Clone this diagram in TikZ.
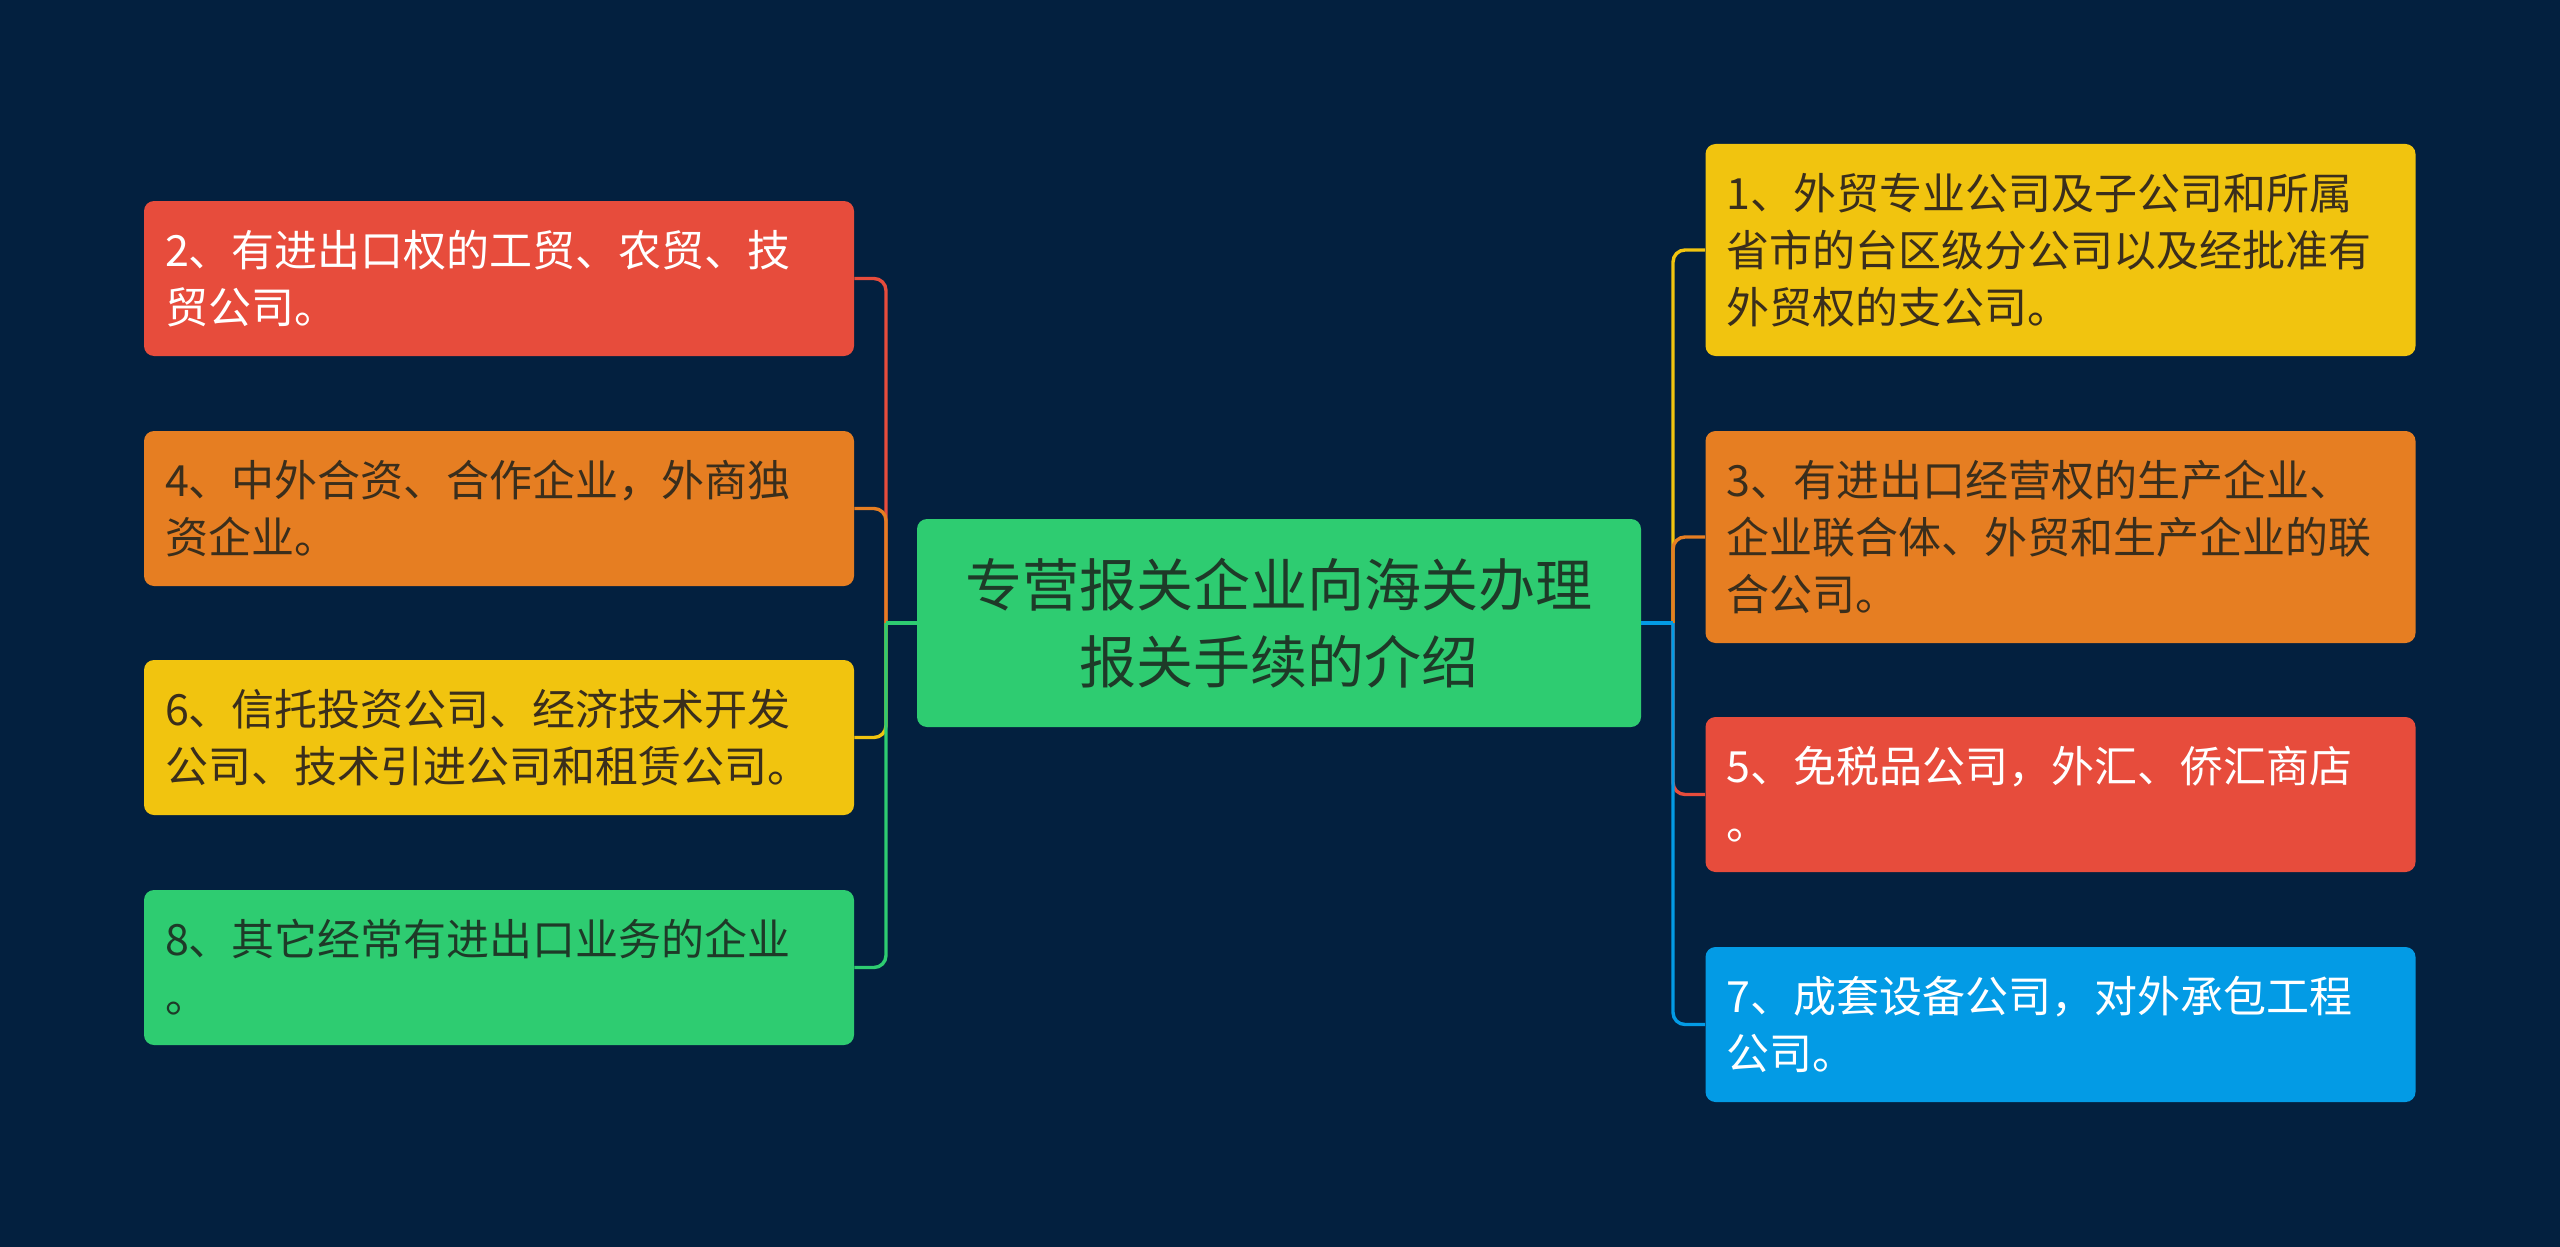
\documentclass[tikz,border=0pt]{standalone}
\usepackage{fontspec}
\setmainfont{Noto Sans CJK SC}
\definecolor{bg}{HTML}{03203F}
\definecolor{cred}{HTML}{E74C3C}
\definecolor{corange}{HTML}{E67E22}
\definecolor{cyellow}{HTML}{F1C40F}
\definecolor{cgreen}{HTML}{2ECC71}
\definecolor{cblue}{HTML}{039BE5}
\definecolor{tdark}{HTML}{3A2E1C}
\definecolor{tgreen}{HTML}{1E3A28}
\tikzset{
  box/.style={rounded corners=5pt, align=left, text width=334pt, inner xsep=10.5pt, inner ysep=0pt,
    font=\fontsize{21.5pt}{28.5pt}\selectfont},
  boxtwo/.style={box, minimum height=77.5pt},
  boxthree/.style={box, minimum height=106pt},
  link/.style={line width=1.7pt, rounded corners=6pt},
}
\begin{document}
\begin{tikzpicture}[x=0.5pt,y=-0.5pt]
\useasboundingbox (0,0) rectangle (2560,1247);
\fill[bg] (0,0) rectangle (2560,1247);

\node[fill=cgreen, rounded corners=5pt, minimum width=362pt, minimum height=104pt, align=center,
  text=tgreen, font=\fontsize{28.5pt}{38.5pt}\selectfont] (root) at (1279,623)
  {专营报关企业向海关办理\\报关手续的介绍};

% left
\node[boxtwo, fill=cred, text=white] (n2) at (499,278.5) {2、有进出口权的工贸、农贸、技\\贸公司。};
\node[boxtwo, fill=corange, text=tdark] (n4) at (499,508.5) {4、中外合资、合作企业，外商独\\资企业。};
\node[boxtwo, fill=cyellow, text=tdark] (n6) at (499,737.5) {6、信托投资公司、经济技术开发\\公司、技术引进公司和租赁公司。};
\node[boxtwo, fill=cgreen, text=tgreen] (n8) at (499,967.5) {8、其它经常有进出口业务的企业\\。};

% right
\node[boxthree, fill=cyellow, text=tdark] (n1) at (2060.5,250) {1、外贸专业公司及子公司和所属\\省市的台区级分公司以及经批准有\\外贸权的支公司。};
\node[boxthree, fill=corange, text=tdark] (n3) at (2060.5,537) {3、有进出口经营权的生产企业、\\企业联合体、外贸和生产企业的联\\合公司。};
\node[boxtwo, fill=cred, text=white] (n5) at (2060.5,794.5) {5、免税品公司，外汇、侨汇商店\\。};
\node[boxtwo, fill=cblue, text=white] (n7) at (2060.5,1024.5) {7、成套设备公司，对外承包工程\\公司。};

\coordinate (LT) at (886,623);
\coordinate (RT) at (1673,623);

\draw[link, cred] (LT) |- (n2.east);
\draw[link, corange] (LT) |- (n4.east);
\draw[link, cyellow] (LT) |- (n6.east);
\draw[link, cgreen] (LT) |- (n8.east);
\draw[link, cgreen] (root.west) -- (LT);

\draw[link, cyellow] (RT) |- (n1.west);
\draw[link, corange] (RT) |- (n3.west);
\draw[link, cred] (RT) |- (n5.west);
\draw[link, cblue] (RT) |- (n7.west);
\draw[link, cblue] (root.east) -- (RT);
\end{tikzpicture}
\end{document}
